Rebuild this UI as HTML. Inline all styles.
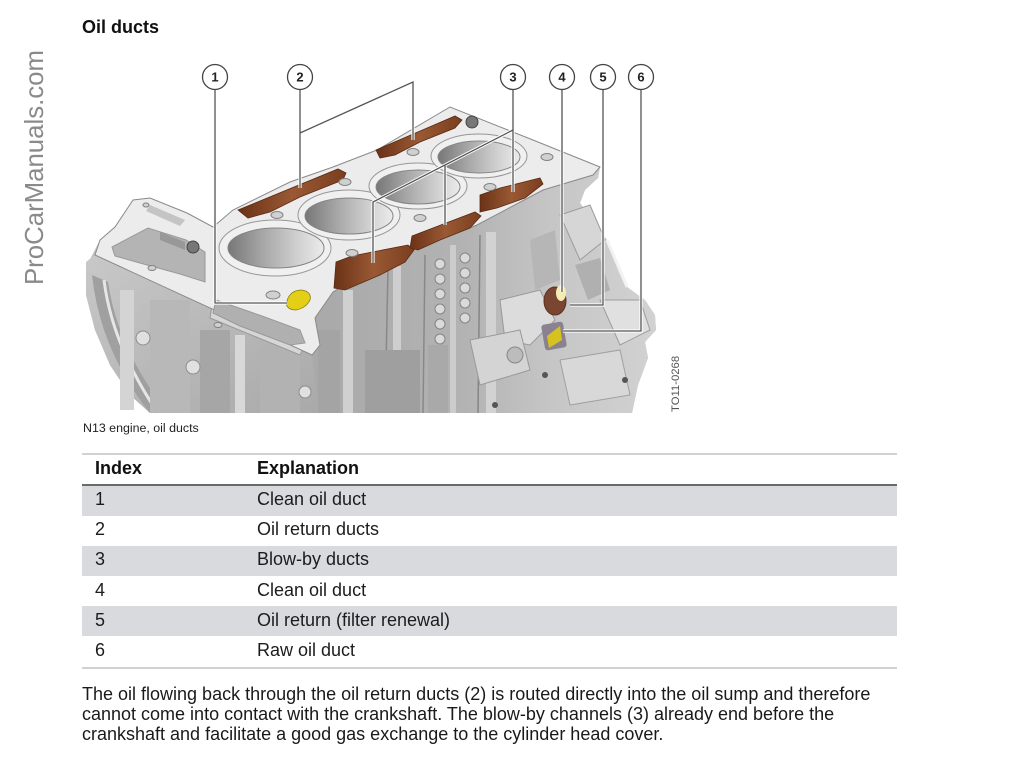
<!DOCTYPE html>
<html><head><meta charset="utf-8">
<style>
html,body{margin:0;padding:0;background:#fff;}
body{width:1015px;height:768px;position:relative;overflow:hidden;font-family:"Liberation Sans",Arial,sans-serif;color:#1a1a1a;}
.a{position:absolute;white-space:nowrap;}
.title{left:82px;top:18px;font-size:18px;line-height:18px;font-weight:bold;color:#111;}
.cap{left:83px;top:421px;font-size:12.4px;line-height:14px;color:#222;}
.line{position:absolute;left:82px;width:815px;}
.row{position:absolute;left:82px;width:815px;background:#d9dadd;}
.t{position:absolute;font-size:18px;line-height:20px;color:#1c1c1c;white-space:nowrap;}
.h{font-weight:bold;color:#111;}
.para{left:82px;top:683.6px;font-size:18px;line-height:20.3px;color:#1a1a1a;}
</style></head><body>

<svg width="1015" height="768" viewBox="0 0 1015 768" style="position:absolute;left:0;top:0">
<defs>
<linearGradient id="bore" x1="0" y1="0" x2="1" y2="0">
<stop offset="0" stop-color="#777"/><stop offset="0.35" stop-color="#a5a5a5"/><stop offset="0.75" stop-color="#d3d3d3"/><stop offset="1" stop-color="#ebebeb"/>
</linearGradient>
<linearGradient id="brown" x1="0" y1="0" x2="1" y2="0">
<stop offset="0" stop-color="#6a3217"/><stop offset="0.5" stop-color="#9a5934"/><stop offset="1" stop-color="#7a3e1f"/>
</linearGradient>
<linearGradient id="face" x1="0" y1="0" x2="1" y2="0">
<stop offset="0" stop-color="#a9a9a9"/><stop offset="0.45" stop-color="#b3b3b3"/><stop offset="0.7" stop-color="#c6c6c6"/><stop offset="1" stop-color="#d2d2d2"/>
</linearGradient>
<linearGradient id="leftg" x1="0" y1="0" x2="1" y2="1">
<stop offset="0" stop-color="#c8c8c8"/><stop offset="1" stop-color="#a9a9a9"/>
</linearGradient>
<clipPath id="cp"><rect x="80" y="60" width="590" height="354"/></clipPath>
</defs>

<!-- watermark -->
<text transform="translate(43,285) rotate(-90)" font-family="Liberation Sans, Arial, sans-serif" font-size="25.8" fill="#8a8a8a" textLength="235">ProCarManuals.com</text>

<g clip-path="url(#cp)">
<polygon points="88,263 100,240 115,227 133,200 150,198 187,213 213,227 233,210 290,182 333,167 377,150 450,107 533,140 600,167 598,178 585,190 580,203 607,240 627,287 645,300 655,315 656,330 645,342 648,358 638,385 632,413 150,413 130,395 110,365 95,330 86,295" fill="#c0c0c0"/>
<!-- left lower -->
<polygon points="86,262 95,255 312,355 318,413 150,413 130,395 110,365 95,330 86,295" fill="url(#leftg)"/>
<path d="M92,275 Q100,350 150,413 L168,413 Q118,350 108,282 Z" fill="#a0a0a0"/>
<path d="M104,280 Q112,345 158,413" stroke="#e6e6e6" stroke-width="3" fill="none"/>
<rect x="120" y="290" width="14" height="120" fill="#d4d4d4"/>
<rect x="150" y="300" width="40" height="113" fill="#b8b8b8"/>
<rect x="200" y="330" width="30" height="83" fill="#a6a6a6"/>
<rect x="235" y="335" width="10" height="78" fill="#d8d8d8"/>
<rect x="260" y="345" width="40" height="68" fill="#b2b2b2"/>
<path d="M212,305 L305,345 L300,355 L210,318 Z" fill="#d6d6d6" stroke="#999"/>
<circle cx="143" cy="338" r="7" fill="#e0e0e0" stroke="#8c8c8c"/>
<circle cx="193" cy="367" r="7" fill="#e0e0e0" stroke="#8c8c8c"/>
<circle cx="305" cy="392" r="6" fill="#e0e0e0" stroke="#8c8c8c"/>
<!-- front face + bell housing -->
<polygon points="600,167 593,175 543,190 477,225 413,250 350,282 333,292 315,318 320,345 312,355 318,413 632,413 638,385 648,358 645,342 656,330 655,315 645,300 627,287 607,240 580,203 585,190 598,178" fill="url(#face)"/>
<rect x="318" y="330" width="22" height="83" fill="#a4a4a4"/>
<rect x="343" y="290" width="10" height="123" fill="#d0d0d0"/>
<line x1="388" y1="268" x2="385" y2="413" stroke="#888" stroke-width="1.5"/>
<rect x="393" y="266" width="8" height="147" fill="#cecece"/>
<line x1="425" y1="255" x2="423" y2="413" stroke="#888" stroke-width="1.5"/>
<rect x="450" y="245" width="6" height="168" fill="#cccccc"/>
<line x1="480" y1="235" x2="478" y2="413" stroke="#858585" stroke-width="1.5"/>
<rect x="486" y="232" width="10" height="181" fill="#d2d2d2"/>
<rect x="365" y="350" width="55" height="63" fill="#9f9f9f"/>
<rect x="428" y="345" width="20" height="68" fill="#a9a9a9"/>
<g fill="#dadada" stroke="#858585" stroke-width="1">
<circle cx="440" cy="264" r="5"/><circle cx="440" cy="279" r="5"/><circle cx="440" cy="294" r="5"/><circle cx="440" cy="309" r="5"/><circle cx="440" cy="324" r="5"/><circle cx="440" cy="339" r="5"/>
<circle cx="465" cy="258" r="5"/><circle cx="465" cy="273" r="5"/><circle cx="465" cy="288" r="5"/><circle cx="465" cy="303" r="5"/><circle cx="465" cy="318" r="5"/>
</g>
<path d="M500,300 L540,290 L555,320 L530,345 L505,340 Z" fill="#dcdcdc" stroke="#999"/>
<path d="M470,340 L520,330 L530,370 L480,385 Z" fill="#d4d4d4" stroke="#999"/>
<circle cx="515" cy="355" r="8" fill="#bcbcbc" stroke="#888"/>
<path d="M560,215 L590,205 L605,240 L580,260 Z" fill="#d6d6d6" stroke="#9c9c9c"/>
<path d="M575,265 L600,258 L610,290 L588,300 Z" fill="#b0b0b0"/>
<path d="M600,300 L640,300 L650,330 L620,345 Z" fill="#e0e0e0" stroke="#9c9c9c"/>
<path d="M560,360 L620,350 L630,395 L570,405 Z" fill="#d8d8d8" stroke="#a0a0a0"/>
<path d="M530,240 L555,230 L560,280 L535,290 Z" fill="#b6b6b6"/>
<path d="M607,240 L627,287" stroke="#f2f2f2" stroke-width="3"/>
<circle cx="545" cy="375" r="3" fill="#555"/><circle cx="625" cy="380" r="3" fill="#555"/><circle cx="495" cy="405" r="3" fill="#555"/>
<!-- deck -->
<polygon points="100,240 115,227 133,200 150,198 187,213 213,227 233,210 290,182 333,167 377,150 450,107 533,140 600,167 593,175 543,190 477,225 413,250 350,282 333,292 315,318 320,345 312,355 95,255" fill="#ececec" stroke="#8a8a8a" stroke-width="1"/>
<polygon points="112,247 148,228 186,240 205,252 205,282 180,274 140,263 115,256" fill="#b4b4b4" stroke="#999"/>
<polygon points="160,232 185,242 185,250 160,240" fill="#989898"/>
<polygon points="216,300 262,316 300,330 305,343 290,345 240,326 213,313" fill="#b0b0b0" stroke="#999"/>
<polygon points="150,205 185,220 180,226 146,211" fill="#c4c4c4"/>
<!-- bores -->
<ellipse cx="275" cy="248" rx="56" ry="28" fill="#f0f0f0" stroke="#969696"/>
<ellipse cx="276" cy="248" rx="48" ry="20" fill="url(#bore)" stroke="#858585"/>
<ellipse cx="349" cy="215" rx="51" ry="25" fill="#f0f0f0" stroke="#969696"/>
<ellipse cx="349" cy="216" rx="44" ry="18" fill="url(#bore)" stroke="#858585"/>
<ellipse cx="418" cy="186" rx="49" ry="23" fill="#f0f0f0" stroke="#969696"/>
<ellipse cx="418" cy="187" rx="42" ry="17" fill="url(#bore)" stroke="#858585"/>
<ellipse cx="479" cy="156" rx="48" ry="22" fill="#f0f0f0" stroke="#969696"/>
<ellipse cx="479" cy="157" rx="41" ry="16" fill="url(#bore)" stroke="#858585"/>
<!-- ducts -->
<polygon points="238,210 338,169 346,173 343,180 300,197 270,212 248,218" fill="url(#brown)" stroke="#5a2a12" stroke-width="0.8"/>
<polygon points="376,150 455,116 462,120 455,128 420,142 395,155 380,158" fill="url(#brown)" stroke="#5a2a12" stroke-width="0.8"/>
<polygon points="336,262 352,256 408,245 414,250 405,262 380,275 345,290 334,288" fill="url(#brown)" stroke="#5a2a12" stroke-width="0.8"/>
<polygon points="412,236 475,212 481,216 470,228 440,240 418,250 410,248" fill="url(#brown)" stroke="#5a2a12" stroke-width="0.8"/>
<polygon points="480,195 500,188 540,178 543,184 525,198 497,208 480,212" fill="url(#brown)" stroke="#5a2a12" stroke-width="0.8"/>
<g fill="#d0d0d0" stroke="#828282" stroke-width="1">
<ellipse cx="277" cy="215" rx="6" ry="3.5"/><ellipse cx="345" cy="182" rx="6" ry="3.5"/><ellipse cx="413" cy="152" rx="6" ry="3.5"/>
<ellipse cx="352" cy="253" rx="6" ry="3.5"/><ellipse cx="420" cy="218" rx="6" ry="3.5"/><ellipse cx="490" cy="187" rx="6" ry="3.5"/>
<ellipse cx="547" cy="157" rx="6" ry="3.5"/><ellipse cx="273" cy="295" rx="7" ry="4"/><ellipse cx="152" cy="268" rx="4" ry="2.5"/>
<ellipse cx="218" cy="325" rx="4" ry="2.5"/><ellipse cx="146" cy="205" rx="3" ry="2"/>
</g>
<circle cx="193" cy="247" r="6" fill="#777" stroke="#444"/>
<circle cx="472" cy="122" r="6" fill="#777" stroke="#444"/>
<path d="M288,298 Q292,290 302,290 Q312,292 310,300 Q306,308 296,310 Q288,310 286,304 Z" fill="#e3cf16" stroke="#8a7a10" stroke-width="0.8"/>
<ellipse cx="555" cy="301" rx="11" ry="14" fill="#7b4631" stroke="#5a3020"/>
<ellipse cx="561" cy="293" rx="5" ry="8" fill="#f3edb5"/>
<rect x="543" y="323" width="22" height="26" rx="3" fill="#8a8290" transform="rotate(-10 554 336)"/>
<polygon points="547,336 560,326 562,340 549,348" fill="#d6c21e"/>
</g>

<g stroke="#ffffff" stroke-width="3.2" fill="none">
<path d="M215,90 V303 H287"/>
<path d="M300,90 V188 M300,133 L413,82 V140"/>
<path d="M513,90 V192 M513,130 L445,165 V225 M513,130 L373,202 V263"/>
<path d="M562,90 V292"/>
<path d="M603,90 V305 H570"/>
<path d="M641,90 V331 H563"/>
</g>
<g stroke="#555" stroke-width="1.3" fill="none">
<path d="M215,90 V303 H287"/>
<path d="M300,90 V188 M300,133 L413,82 V140"/>
<path d="M513,90 V192 M513,130 L445,165 V225 M513,130 L373,202 V263"/>
<path d="M562,90 V292"/>
<path d="M603,90 V305 H570"/>
<path d="M641,90 V331 H563"/>
</g>
<g fill="#fff" stroke="#444" stroke-width="1.3">
<circle cx="215" cy="77" r="12.5"/><circle cx="300" cy="77" r="12.5"/><circle cx="513" cy="77" r="12.5"/>
<circle cx="562" cy="77" r="12.5"/><circle cx="603" cy="77" r="12.5"/><circle cx="641" cy="77" r="12.5"/>
</g>
<g font-family="Liberation Sans, Arial, sans-serif" font-size="13" font-weight="bold" fill="#222" text-anchor="middle">
<text x="215" y="81.7">1</text><text x="300" y="81.7">2</text><text x="513" y="81.7">3</text>
<text x="562" y="81.7">4</text><text x="603" y="81.7">5</text><text x="641" y="81.7">6</text>
</g>
<text transform="translate(679,412) rotate(-90)" font-family="Liberation Sans, Arial, sans-serif" font-size="11.3" fill="#555">TO11-0268</text>
</svg>

<div class="a title">Oil ducts</div>
<div class="a cap">N13 engine, oil ducts</div>

<div class="line" style="top:452.7px;height:2px;background:#d2d2d2;"></div>
<div class="t h" style="left:95px;top:457.8px;">Index</div>
<div class="t h" style="left:257px;top:457.8px;">Explanation</div>
<div class="line" style="top:483.5px;height:2.2px;background:#6a6a6a;"></div>
<div class="row" style="top:485.7px;height:30.1px;"></div>
<div class="row" style="top:545.5px;height:30.5px;"></div>
<div class="row" style="top:605.7px;height:30.6px;"></div>
<div class="line" style="top:666.7px;height:2px;background:#d2d2d2;"></div>

<div class="t" style="left:95px;top:488.8px;">1</div><div class="t" style="left:257px;top:488.8px;">Clean oil duct</div>
<div class="t" style="left:95px;top:519.1px;">2</div><div class="t" style="left:257px;top:519.1px;">Oil return ducts</div>
<div class="t" style="left:95px;top:549.3px;">3</div><div class="t" style="left:257px;top:549.3px;">Blow-by ducts</div>
<div class="t" style="left:95px;top:579.5px;">4</div><div class="t" style="left:257px;top:579.5px;">Clean oil duct</div>
<div class="t" style="left:95px;top:609.8px;">5</div><div class="t" style="left:257px;top:609.8px;">Oil return (filter renewal)</div>
<div class="t" style="left:95px;top:640px;">6</div><div class="t" style="left:257px;top:640px;">Raw oil duct</div>

<div class="a para">The oil flowing back through the oil return ducts (2) is routed directly into the oil sump and therefore<br>cannot come into contact with the crankshaft. The blow-by channels (3) already end before the<br>crankshaft and facilitate a good gas exchange to the cylinder head cover.</div>

</body></html>
